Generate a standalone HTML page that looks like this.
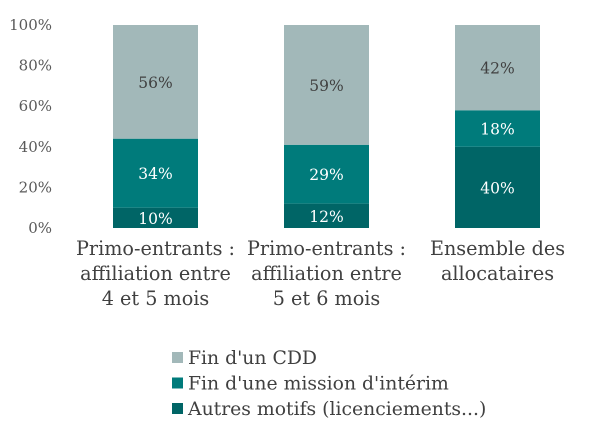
<!DOCTYPE html>
<html><head><meta charset="utf-8"><style>
html,body{margin:0;padding:0;background:#fff;}
svg text{font-family:"DejaVu Serif","Liberation Serif",serif;}
</style></head><body>
<svg width="605" height="427" viewBox="0 0 605 427" xmlns="http://www.w3.org/2000/svg">
<g id="yaxis"></g>
<g id="bars"></g>
<g id="xlabels"></g>
<g id="legend"></g>
</svg>
<script>
const categories=[["Primo-entrants :","affiliation entre","4 et 5 mois"],["Primo-entrants :","affiliation entre","5 et 6 mois"],["Ensemble des","allocataires"]];
const autres=[10,12,40];
const interim=[34,29,18];
const cdd=[56,59,42];
const yTicks=[0,20,40,60,80,100];
const seriesNames=["Fin d'un CDD","Fin d'une mission d'intérim","Autres motifs (licenciements...)"];
const colors={cdd:"#a2b8b9",interim:"#007b7b",autres:"#006566"};
const NS="http://www.w3.org/2000/svg";
const y0=228,y1=25;
function y(v){return y0-(y0-y1)*v/100;}
function x(i){return 155.5+171*i;}
const bw=85;
function el(tag,attrs,parent,text){const e=document.createElementNS(NS,tag);for(const k in attrs)e.setAttribute(k,attrs[k]);if(text!==undefined)e.textContent=text;parent.appendChild(e);return e;}
const ya=document.getElementById('yaxis');
yTicks.forEach(t=>{const e=el('text',{x:52,y:y(t)+5,'text-anchor':'end','font-size':15,fill:'#595959'},ya,t+'%');

});
const bars=document.getElementById('bars');
categories.forEach((c,i)=>{
  const segs=[[autres[i],colors.autres,'#fff','autres'],[interim[i],colors.interim,'#fff','interim'],[cdd[i],colors.cdd,'#404040','cdd']];
  let base=0;
  segs.forEach(s=>{
    const r=el('rect',{x:x(i)-bw/2,y:y(base+s[0]),width:bw,height:y(base)-y(base+s[0]),fill:s[1]},bars);
    
    
    const t=el('text',{x:x(i),y:(y(base)+y(base+s[0]))/2+6,'text-anchor':'middle','font-size':15.5,fill:s[2]},bars,s[0]+'%');
    
    
    base+=s[0];
  });
});
const xl=document.getElementById('xlabels');
categories.forEach((c,i)=>{c.forEach((line,j)=>{
  const t=el('text',{x:x(i),y:255+25*j,'text-anchor':'middle','font-size':19.2,fill:'#404040'},xl,line);
  
  
});});
const lg=document.getElementById('legend');
const lc=[colors.cdd,colors.interim,colors.autres];
seriesNames.forEach((n,i)=>{
  const r=el('rect',{x:172,y:352+25.5*i,width:11,height:11,fill:lc[i]},lg);
  
  
  const t=el('text',{x:188,y:364+25.5*i,'font-size':18.8,fill:'#404040'},lg,n);
  
  
});
</script>
</body></html>
